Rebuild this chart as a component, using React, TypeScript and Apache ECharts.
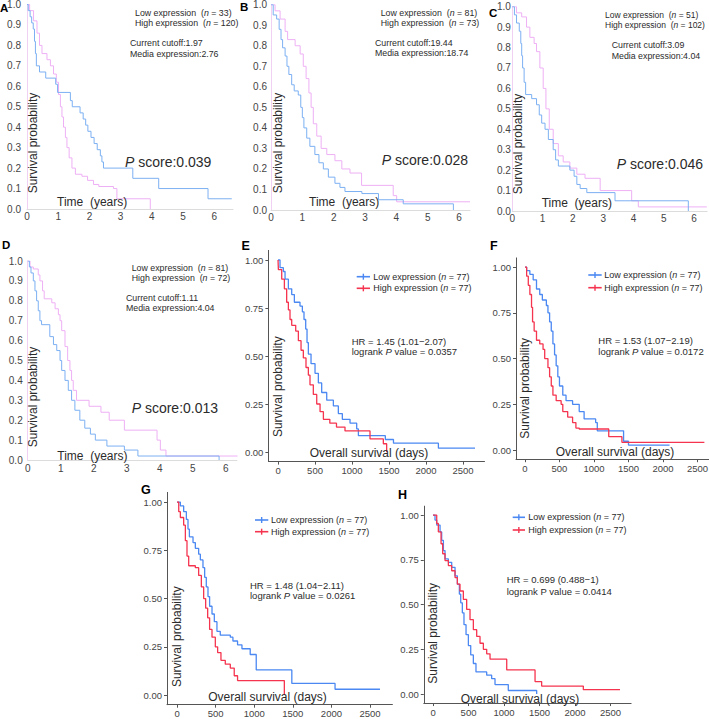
import React, { useEffect, useRef } from 'react';
import * as echarts from 'echarts';

const FONT = "'Liberation Sans', Arial, Helvetica, sans-serif";

// ---------- tick labels ----------
const yearTicks = [0, 1, 2, 3, 4, 5, 6];
const probTicksKM = [0, 0.1, 0.2, 0.3, 0.4, 0.5, 0.6, 0.7, 0.8, 0.9, 1];
const dayTicks = [0, 500, 1000, 1500, 2000, 2500];
const probTicksGG = [0, 0.25, 0.5, 0.75, 1];

// ---------- survival curves (time, probability) ----------
const aLow = [[0,1],[0.04,0.97],[0.1,0.94],[0.15,0.91],[0.2,0.88],[0.24,0.82],[0.27,0.76],[0.3,0.70],[0.4,0.67],[0.6,0.64],[0.92,0.61],[0.98,0.57],[1.39,0.53],[1.45,0.50],[1.7,0.47],[1.8,0.44],[1.88,0.41],[1.95,0.38],[2.05,0.35],[2.15,0.32],[2.25,0.29],[2.35,0.26],[2.4,0.23],[2.45,0.20],[3.39,0.15],[4.22,0.10],[5.8,0.05],[6.56,0.05]];
const aHigh = [[0,1],[0.085,0.97],[0.21,0.92],[0.32,0.86],[0.4,0.8],[0.48,0.76],[0.64,0.73],[0.75,0.70],[0.85,0.66],[0.94,0.62],[1.01,0.56],[1.07,0.50],[1.12,0.45],[1.17,0.40],[1.23,0.35],[1.28,0.30],[1.35,0.25],[1.44,0.20],[1.55,0.17],[1.76,0.16],[1.94,0.14],[2.13,0.12],[2.3,0.11],[2.77,0.10],[2.88,0.05],[3.95,0.0]];
const bLow = [[0,1],[0.07,0.95],[0.18,0.93],[0.26,0.88],[0.32,0.83],[0.37,0.79],[0.45,0.75],[0.51,0.70],[0.57,0.66],[0.66,0.61],[0.74,0.58],[0.87,0.56],[0.95,0.50],[1.0,0.45],[1.05,0.40],[1.14,0.35],[1.24,0.31],[1.4,0.27],[1.53,0.23],[1.67,0.20],[1.83,0.16],[2.04,0.13],[2.2,0.11],[2.36,0.09],[2.9,0.08],[3.43,0.05],[4.22,0.03],[5.82,0.0]];
const bHigh = [[0,1],[0.13,0.97],[0.29,0.93],[0.45,0.87],[0.53,0.83],[0.77,0.80],[0.93,0.76],[1.03,0.70],[1.12,0.64],[1.21,0.57],[1.28,0.50],[1.35,0.42],[1.46,0.36],[1.6,0.30],[1.78,0.27],[2.04,0.24],[2.26,0.20],[2.52,0.18],[2.89,0.12],[3.9,0.07],[4.01,0.04],[6.35,0.04]];
const cLow = [[0,1],[0.07,0.96],[0.14,0.92],[0.23,0.88],[0.28,0.82],[0.31,0.76],[0.34,0.70],[0.39,0.63],[0.44,0.57],[0.64,0.55],[0.8,0.52],[0.89,0.47],[0.97,0.43],[1.08,0.40],[1.19,0.35],[1.35,0.30],[1.43,0.25],[1.52,0.22],[1.9,0.20],[2.04,0.17],[2.13,0.13],[2.24,0.11],[2.46,0.09],[3.39,0.05],[5.81,0.0]];
const cHigh = [[0,1],[0.14,0.97],[0.31,0.95],[0.47,0.90],[0.58,0.85],[0.72,0.82],[0.8,0.78],[0.91,0.70],[1.02,0.60],[1.11,0.50],[1.22,0.40],[1.35,0.33],[1.52,0.27],[1.68,0.24],[1.9,0.21],[2.13,0.18],[2.4,0.16],[2.9,0.10],[3.94,0.05],[4.16,0.02],[6.42,0.02]];
const dLow = [[0,1],[0.05,0.97],[0.1,0.94],[0.17,0.90],[0.22,0.85],[0.27,0.80],[0.32,0.75],[0.37,0.70],[0.42,0.68],[0.67,0.62],[0.78,0.58],[0.88,0.55],[0.98,0.50],[1.03,0.45],[1.13,0.40],[1.23,0.35],[1.33,0.30],[1.43,0.25],[1.58,0.20],[1.73,0.16],[1.9,0.13],[2.05,0.10],[2.4,0.07],[2.93,0.05],[3.34,0.02],[5.8,0.0]];
const dHigh = [[0,1],[0.07,0.97],[0.17,0.96],[0.32,0.93],[0.37,0.90],[0.45,0.85],[0.5,0.81],[0.73,0.79],[0.83,0.76],[0.93,0.73],[0.98,0.70],[1.03,0.65],[1.13,0.57],[1.21,0.50],[1.28,0.45],[1.33,0.40],[1.38,0.35],[1.48,0.30],[1.86,0.27],[2.22,0.24],[2.47,0.20],[2.93,0.15],[3.92,0.10],[4.02,0.05],[4.19,0.02],[6.36,0.02]];

const eLow = [[0,1],[27,0.96],[72,0.94],[95,0.90],[140,0.85],[185,0.82],[221,0.78],[297,0.76],[329,0.73],[351,0.69],[374,0.64],[392,0.57],[410,0.51],[446,0.46],[500,0.41],[545,0.36],[590,0.31],[658,0.27],[748,0.24],[815,0.20],[869,0.17],[973,0.15],[1063,0.12],[1086,0.085],[1450,0.065],[1560,0.046],[2167,0.02],[2662,0.02]];
const eHigh = [[0,1],[5,0.95],[50,0.90],[86,0.85],[117,0.78],[140,0.74],[162,0.69],[185,0.66],[239,0.63],[275,0.58],[311,0.53],[342,0.49],[378,0.44],[410,0.40],[432,0.35],[477,0.30],[523,0.25],[568,0.21],[613,0.17],[700,0.15],[790,0.13],[905,0.11],[1243,0.068],[1423,0.043],[1468,0.0]];
const fLow = [[0,1],[24,0.98],[71,0.96],[119,0.93],[167,0.88],[214,0.85],[252,0.82],[310,0.79],[333,0.75],[357,0.70],[381,0.65],[405,0.58],[429,0.52],[452,0.46],[476,0.40],[500,0.35],[548,0.30],[595,0.27],[690,0.25],[786,0.21],[857,0.17],[1024,0.15],[1048,0.105],[1429,0.048],[1500,0.027],[2095,0.027]];
const fHigh = [[0,1],[24,0.95],[48,0.90],[71,0.85],[95,0.78],[110,0.70],[133,0.65],[167,0.60],[214,0.58],[262,0.55],[286,0.50],[333,0.45],[357,0.40],[381,0.35],[405,0.30],[452,0.27],[524,0.25],[548,0.21],[619,0.18],[690,0.15],[738,0.12],[786,0.115],[1214,0.073],[1405,0.042],[2600,0.042]];
const gLow = [[0,1],[43,0.98],[86,0.95],[121,0.91],[142,0.86],[160,0.82],[207,0.79],[237,0.76],[280,0.73],[302,0.70],[336,0.66],[358,0.61],[379,0.56],[401,0.51],[422,0.46],[453,0.42],[483,0.38],[517,0.33],[560,0.31],[690,0.30],[724,0.28],[784,0.26],[841,0.24],[948,0.21],[1026,0.13],[1487,0.06],[2047,0.03],[2629,0.03]];
const gHigh = [[0,1],[22,0.95],[43,0.92],[86,0.88],[108,0.80],[129,0.72],[151,0.67],[237,0.66],[280,0.62],[315,0.56],[345,0.50],[371,0.45],[397,0.40],[422,0.34],[453,0.30],[496,0.25],[526,0.22],[569,0.18],[625,0.16],[690,0.14],[741,0.10],[784,0.075],[1390,0.0]];
const hLow = [[0,1],[28,0.972],[52,0.944],[99,0.906],[122,0.859],[146,0.802],[169,0.755],[216,0.736],[263,0.708],[310,0.661],[343,0.614],[371,0.558],[390,0.51],[413,0.454],[436,0.388],[465,0.332],[498,0.271],[531,0.219],[568,0.171],[605,0.124],[756,0.106],[826,0.086],[873,0.053],[1060,0.02],[1460,0]];
const hHigh = [[0,1],[52,0.953],[75,0.906],[113,0.84],[136,0.784],[169,0.746],[216,0.718],[263,0.689],[310,0.651],[343,0.614],[380,0.576],[427,0.529],[474,0.473],[521,0.416],[568,0.36],[615,0.322],[662,0.284],[709,0.25],[756,0.225],[803,0.195],[1038,0.135],[1437,0.07],[1530,0.045],[2117,0.025],[2634,0.025]];

// ---------- annotation texts ----------
const kmLetters = ['A', 'B', 'C', 'D'];
const kmN = [[33, 120], [81, 73], [51, 102], [81, 72]];
const kmCutoff = ['1.97', '19.44', '3.09', '1.11'];
const kmMedian = ['2.76', '18.74', '4.04', '4.04'];
const kmP = ['0.039', '0.028', '0.046', '0.013'];
const ggLetters = ['E', 'F', 'G', 'H'];
const ggN = [[77, 77], [77, 77], [77, 77], [77, 77]];
const ggHR = ['1.45 (1.01\u22122.07)', '1.53 (1.07\u22122.19)', '1.48 (1.04\u22122.11)', '0.699 (0.488\u22121)'];
const ggP = ['0.0357', '0.0172', '0.0261', '0.0414'];
const ggPItalic = [true, true, true, false];

// ---------- layout ----------
const kmLayout = [
  { low: aLow, high: aHigh, left: 27, top: 4.5, width: 206, height: 204.5, xMax: 6.6, yMargin: 6, xMargin: 2, legSize: 8.8,
    letter: [0, 7.5], leg: [135, 12.5], cut: [130, 43], p: [125, 162], xName: [57, 202], yName: [33, 143] },
  { low: bLow, high: bHigh, left: 271, top: 4.7, width: 199, height: 205.3, xMax: 6.35, yMargin: 4, xMargin: 2, legSize: 8.8,
    letter: [240, 6.7], leg: [380.7, 12.7], cut: [375, 42.7], p: [381.7, 160], xName: [309, 201.7], yName: [278.3, 143] },
  { low: cLow, high: cHigh, left: 512.3, top: 6.7, width: 194.8, height: 204.3, xMax: 6.43, yMargin: 1.5, xMargin: 2, legSize: 8.5,
    letter: [489, 12.5], leg: [605, 14.7], cut: [611.7, 45], p: [616.7, 164], xName: [541.7, 202.7], yName: [517.7, 144] },
  { low: dLow, high: dHigh, left: 27.7, top: 261, width: 209.2, height: 199, xMax: 6.34, yMargin: 5, xMargin: 3, legSize: 8.8,
    letter: [2, 245], leg: [131.7, 267.7], cut: [126, 297.7], p: [131.7, 407.7], xName: [57.3, 456], yName: [33.3, 397] },
];
const ggLayout = [
  { low: eLow, high: eHigh, left: 268.4, top: 250.4, width: 216.1, height: 211.2,
    letter: [241.5, 245.5], legLine: [356.7, 370], legY: [276.7, 288.3], legText: 373.3, hr: [351.7, 341], lr: 351.7, yName: [278.3, 386.7], xName: [369, 453.3] },
  { low: fLow, high: fHigh, left: 516, top: 257.9, width: 201.5, height: 201.3,
    letter: [490, 245.5], legLine: [588.3, 601.7], legY: [275, 287.7], legText: 604.3, hr: [598.3, 340], lr: 351, yName: [525, 388.3], xName: [615, 451.7] },
  { low: gLow, high: gHigh, left: 167, top: 492.4, width: 225.4, height: 212.3,
    letter: [141, 490], legLine: [255, 268.3], legY: [520, 531.7], legText: 271, hr: [250, 585], lr: 595.5, yName: [176.7, 636.7], xName: [267.5, 697.3] },
  { low: hLow, high: hHigh, left: 423.8, top: 506.15, width: 207.3, height: 196.9,
    letter: [398, 494.7], legLine: [512.7, 525], legY: [517.3, 530], legText: 528.3, hr: [506.7, 579], lr: 591.5, yName: [433.3, 633.3], xName: [520, 698.5] },
];

const KM_BLUE = '#7cb0f2';
const KM_PINK = '#eeb0f5';
const GG_BLUE = '#4b88f2';
const GG_RED = '#f5344f';
const TXT = '#2b2b2b';

function txt(x: number, y: number, s: string, size: number, o: any = {}) {
  const rich = {
    i: { fontStyle: 'italic', fontSize: size, fontFamily: FONT, fill: o.color || TXT, color: o.color || TXT },
  };
  return {
    type: 'text', x, y, rotation: o.rotation || 0, silent: true, z: 10,
    style: {
      text: s, fontSize: size, fontFamily: FONT, fontWeight: o.bold ? 'bold' : 'normal',
      fill: o.color || TXT, align: o.align || 'left', verticalAlign: 'middle',
      textAlign: o.align || 'left', textVerticalAlign: 'middle', rich,
    },
  };
}

function buildOption() {
  const grid: any[] = [];
  const xAxis: any[] = [];
  const yAxis: any[] = [];
  const series: any[] = [];
  const els: any[] = [];

  kmLayout.forEach((p, i) => {
    grid.push({ left: p.left, top: p.top, width: p.width, height: p.height, containLabel: false, outerBoundsMode: 'none' });
    xAxis.push({
      type: 'value', gridIndex: i, min: 0, max: p.xMax,
      axisLine: { show: true, onZero: false, lineStyle: { color: '#dcdcdc', width: 1 } },
      axisTick: { show: false }, splitLine: { show: false },
      axisLabel: { customValues: yearTicks, fontSize: 10, color: '#444', fontFamily: FONT, margin: p.xMargin,
        formatter: (v: number) => String(v) },
    });
    yAxis.push({
      type: 'value', gridIndex: i, min: 0, max: 1,
      axisLine: { show: true, onZero: false, lineStyle: { color: '#f0d0f3', width: 1 } },
      axisTick: { show: false }, splitLine: { show: false },
      axisLabel: { customValues: probTicksKM, fontSize: 10, color: '#444', fontFamily: FONT, margin: p.yMargin,
        formatter: (v: number) => v.toFixed(1) },
    });
    series.push({ type: 'line', step: 'end', xAxisIndex: i, yAxisIndex: i, data: p.high, showSymbol: false,
      symbol: 'none', silent: true, lineStyle: { color: KM_PINK, width: 1 }, z: 2 });
    series.push({ type: 'line', step: 'end', xAxisIndex: i, yAxisIndex: i, data: p.low, showSymbol: false,
      symbol: 'none', silent: true, lineStyle: { color: KM_BLUE, width: 1 }, z: 3 });

    els.push(txt(p.letter[0], p.letter[1], kmLetters[i], 11.5, { bold: true, color: '#000' }));
    els.push(txt(p.leg[0], p.leg[1], `Low expression  ({i|n} = ${kmN[i][0]})`, p.legSize));
    els.push(txt(p.leg[0], p.leg[1] + 10.5, `High expression  ({i|n} = ${kmN[i][1]})`, p.legSize));
    els.push(txt(p.cut[0], p.cut[1], `Current cutoff:${kmCutoff[i]}`, 8.8));
    els.push(txt(p.cut[0], p.cut[1] + 10.5, `Media expression:${kmMedian[i]}`, 8.8));
    els.push(txt(p.p[0], p.p[1], `{i|P} score:${kmP[i]}`, 14));
    els.push(txt(p.xName[0], p.xName[1], 'Time  (years)', 12));
    els.push(txt(p.yName[0], p.yName[1], 'Survival probability', 12, { rotation: Math.PI / 2, align: 'center' }));
  });

  ggLayout.forEach((p, j) => {
    const i = j + kmLayout.length;
    grid.push({ left: p.left, top: p.top, width: p.width, height: p.height, containLabel: false, outerBoundsMode: 'none' });
    xAxis.push({
      type: 'value', gridIndex: i, min: -130, max: 2790,
      axisLine: { show: true, onZero: false, lineStyle: { color: '#555', width: 1 } },
      axisTick: { show: true, customValues: dayTicks, length: 3, lineStyle: { color: '#555' } },
      splitLine: { show: false },
      axisLabel: { customValues: dayTicks, fontSize: 9.5, color: '#444', fontFamily: FONT, margin: 4,
        formatter: (v: number) => String(v) },
    });
    yAxis.push({
      type: 'value', gridIndex: i, min: -0.05, max: 1.05,
      axisLine: { show: true, onZero: false, lineStyle: { color: '#555', width: 1 } },
      axisTick: { show: true, customValues: probTicksGG, length: 3, lineStyle: { color: '#555' } },
      splitLine: { show: false },
      axisLabel: { customValues: probTicksGG, fontSize: 9.5, color: '#444', fontFamily: FONT, margin: 5,
        formatter: (v: number) => v.toFixed(2) },
    });
    series.push({ type: 'line', step: 'end', xAxisIndex: i, yAxisIndex: i, data: p.low, showSymbol: false,
      symbol: 'none', silent: true, lineStyle: { color: GG_BLUE, width: 1.3 }, z: 2 });
    series.push({ type: 'line', step: 'end', xAxisIndex: i, yAxisIndex: i, data: p.high, showSymbol: false,
      symbol: 'none', silent: true, lineStyle: { color: GG_RED, width: 1.3 }, z: 3 });

    els.push(txt(p.letter[0], p.letter[1], ggLetters[j], 12.5, { bold: true, color: '#000' }));
    [GG_BLUE, GG_RED].forEach((c, k) => {
      const y = p.legY[k];
      const cx = (p.legLine[0] + p.legLine[1]) / 2;
      els.push({ type: 'line', silent: true, z: 10, shape: { x1: p.legLine[0], y1: y, x2: p.legLine[1], y2: y }, style: { stroke: c, lineWidth: 1.6 } });
      els.push({ type: 'line', silent: true, z: 10, shape: { x1: cx, y1: y - 3, x2: cx, y2: y + 3 }, style: { stroke: c, lineWidth: 1.4 } });
    });
    els.push(txt(p.legText, p.legY[0], `Low expression ({i|n} = ${ggN[j][0]})`, 9));
    els.push(txt(p.legText, p.legY[1], `High expression ({i|n} = ${ggN[j][1]})`, 9));
    els.push(txt(p.hr[0], p.hr[1], `HR = ${ggHR[j]}`, 9.5));
    els.push(txt(p.hr[0], p.lr, ggPItalic[j] ? `logrank {i|P} value = ${ggP[j]}` : `logrank P value = ${ggP[j]}`, 9.5));
    els.push(txt(p.yName[0], p.yName[1], 'Survival probability', 12, { rotation: Math.PI / 2, align: 'center' }));
    els.push(txt(p.xName[0], p.xName[1], 'Overall survival (days)', 12, { align: 'center' }));
  });

  return {
    animation: false,
    backgroundColor: '#ffffff',
    grid, xAxis, yAxis, series,
    graphic: { elements: els },
  };
}

export default function App() {
  const ref = useRef<HTMLDivElement>(null);
  useEffect(() => {
    if (!ref.current) return;
    const chart = echarts.init(ref.current, undefined, { renderer: 'svg', width: 709, height: 719 });
    chart.setOption(buildOption() as any);
    return () => chart.dispose();
  }, []);
  return (
    <div
      ref={ref}
      style={{ position: 'fixed', left: 0, top: 0, width: 709, height: 719, background: '#fff' }}
    />
  );
}
